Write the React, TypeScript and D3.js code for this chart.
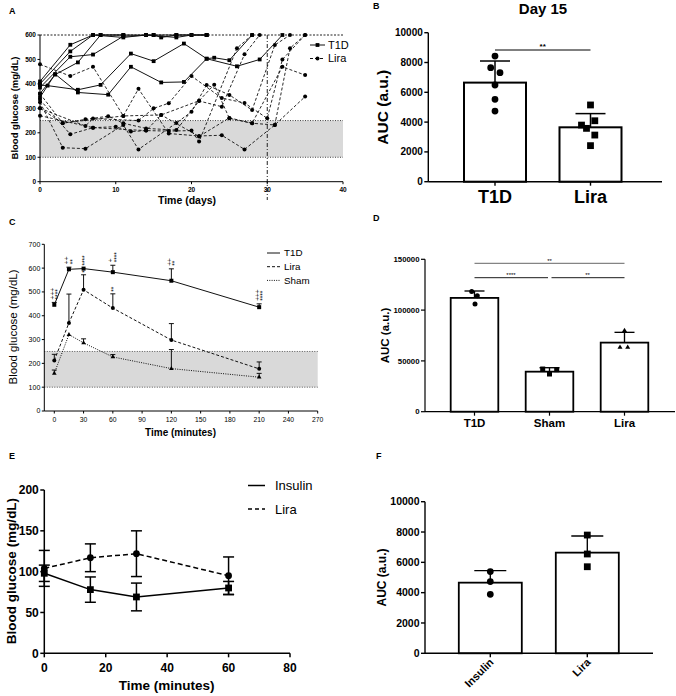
import React from "react";
import * as d3 from "d3";

const FONT = "'Liberation Sans', Arial, Helvetica, sans-serif";

// ---------------- DATA ----------------
// Panel A: individual mice, [day, glucose]
const aT1DMice: [number, number][][] = [
  [[0, 410], [4, 560], [7, 600], [8, 600], [11, 600], [14, 600], [15, 600], [16, 590], [18, 600], [20, 600], [22, 600]],
  [[0, 400], [4, 533], [7, 600], [11, 590], [14, 600], [18, 590], [20, 600], [22, 600]],
  [[0, 385], [4, 511], [7, 520], [11, 595], [15, 600], [18, 600], [22, 600]],
  [[0, 360], [2, 438], [5, 488], [8, 600], [11, 600]],
  [[0, 395], [1, 393], [5, 376], [8, 396], [12, 524], [15, 493], [19, 565], [22, 503], [23, 507], [25, 497], [28, 600]],
  [[0, 345], [2, 440], [5, 365], [9, 356], [12, 470], [16, 406], [19, 408], [22, 503], [26, 472], [29, 500], [32, 600]],
];
const aLiraMice: [number, number][][] = [
  [[0, 480], [4, 432], [7, 470], [11, 269], [13, 380], [17, 197], [21, 187], [24, 190], [27, 132], [31, 232], [35, 348]],
  [[0, 360], [3, 239], [6, 255], [9, 268], [11, 239], [14, 218], [18, 211], [21, 330], [24, 307], [27, 521], [29, 600]],
  [[0, 335], [4, 194], [7, 221], [10, 225], [12, 205], [14, 209], [17, 207], [20, 209], [21, 164], [26, 546], [28, 600]],
  [[0, 325], [3, 139], [6, 135], [11, 232], [13, 132], [18, 240], [20, 286], [22, 396], [25, 355], [28, 293], [31, 559], [33, 600]],
  [[0, 300], [6, 228], [7, 258], [13, 250], [15, 300], [17, 321], [20, 432], [24, 342], [27, 322], [30, 259], [32, 500], [35, 600]],
  [[0, 300], [3, 240], [11, 269], [16, 273], [21, 185], [25, 261], [28, 239], [32, 470], [35, 436]],
  [[0, 270], [7, 221], [14, 209], [16, 273], [21, 331], [23, 397], [25, 259], [28, 239], [31, 232], [33, 546], [35, 600]],
];
const aYTicks = [0, 100, 200, 300, 400, 500, 600];
const aXTicks = [0, 10, 20, 30, 40];

// Panel B
const bCats = ["T1D", "Lira"];
const bMeans = [6650, 3650];
const bErr = [1450, 920];
const bPoints = [
  [8430, 7650, 7320, 6490, 5530, 4740],
  [5150, 3800, 4090, 3580, 3130, 2420],
];
const bYTicks = [0, 2000, 4000, 6000, 8000, 10000];

// Panel C
const cTimes = [0, 15, 30, 60, 120, 210];
const cT1D = [446, 595, 598, 583, 547, 436];
const cT1DErr = [10, 9, 0, 29, 50, 14];
const cLira = [212, 370, 509, 432, 298, 177];
const cLiraErr = [26, 121, 63, 60, 69, 29];
const cSham = [158, 321, 286, 227, 178, 142];
const cShamErr = [14, 0, 17, 10, 80, 16];
const cPlus = ["+++", "++", "", "+", "++", "+++"];
const cStar = ["****", "**", "****", "****", "**", "****"];
const cLiraStar = ["", "", "*", "**", "", ""];
const cYTicks = [0, 100, 200, 300, 400, 500, 600, 700];
const cXTicks = [0, 30, 60, 90, 120, 150, 180, 210, 240, 270];

// Panel D
const dCats = ["T1D", "Sham", "Lira"];
const dMeans = [112000, 39400, 68000];
const dErr = [6800, 3900, 10100];
const dPoints = [
  [118200, 114200, 106000],
  [42000, 37100, 41400],
  [79800, 63300, 63300],
];
const dYTicks = [0, 50000, 100000, 150000];

// Panel E
const eTimes = [0, 15, 30, 60];
const eInsulin = [98, 78, 69, 80];
const eInsulinErr = [10, 15.5, 17, 8];
const eLira = [104, 117, 122, 95];
const eLiraErr = [22, 17, 28, 23];
const eYTicks = [0, 50, 100, 150, 200];
const eXTicks = [0, 20, 40, 60, 80];

// Panel F
const fCats = ["Insulin", "Lira"];
const fMeans = [4660, 6640];
const fErr = [790, 1100];
const fPoints = [
  [5390, 4730, 3890],
  [7800, 6550, 5710],
];
const fYTicks = [0, 2000, 4000, 6000, 8000, 10000];

// ---------------- HELPERS ----------------
type Shape = "square" | "circle" | "triangle";
function symPath(shape: Shape, s: number) {
  const t = shape === "square" ? d3.symbolSquare : shape === "circle" ? d3.symbolCircle : d3.symbolTriangle;
  const area = shape === "square" ? s * s : shape === "circle" ? (Math.PI * s * s) / 4 : 0.433 * s * s;
  return d3.symbol().type(t).size(area)() as string;
}
function Marker({ shape, x, y, s }: { shape: Shape; x: number; y: number; s: number }) {
  return <path d={symPath(shape, s)} transform={`translate(${x},${y})`} fill="#000" />;
}

function YAxis({ scale, x, ticks, fs, bold, tl, sw, fmt, gap }: any) {
  const [r0, r1] = scale.range();
  return (
    <g>
      <line x1={x} x2={x} y1={r0} y2={r1} stroke="#000" strokeWidth={sw} />
      {ticks.map((t: number) => (
        <g key={t}>
          <line x1={x - tl} x2={x} y1={scale(t)} y2={scale(t)} stroke="#000" strokeWidth={sw} />
          <text x={x - tl - gap} y={scale(t)} dy="0.35em" textAnchor="end" fontSize={fs} fontWeight={bold ? "bold" : "normal"} fontFamily={FONT}>
            {fmt ? fmt(t) : t}
          </text>
        </g>
      ))}
    </g>
  );
}

function RotTitle({ cx, cy, text, fs, bold }: any) {
  return (
    <text transform={`translate(${cx},${cy}) rotate(-90)`} dy="0.35em" textAnchor="middle" fontSize={fs} fontWeight={bold ? "bold" : "normal"} fontFamily={FONT}>
      {text}
    </text>
  );
}

function PanelLabel({ x, y, t }: any) {
  return (
    <text x={x} y={y} fontSize={9} fontWeight="bold" fontFamily={FONT}>
      {t}
    </text>
  );
}

// ---------------- PANELS ----------------
function PanelA() {
  const x = d3.scaleLinear().domain([0, 40]).range([40, 343]);
  const y = d3.scaleLinear().domain([0, 600]).range([181.7, 35]);
  const line = d3.line<[number, number]>().x((d) => x(d[0])).y((d) => y(d[1]));
  return (
    <g>
      <PanelLabel x={9} y={13.5} t="A" />
      <rect x={x(0)} y={y(250)} width={x(40) - x(0)} height={y(100) - y(250)} fill="#d9d9d9" />
      <line x1={x(0)} x2={x(40)} y1={y(250)} y2={y(250)} stroke="#444" strokeDasharray="1,1.5" />
      <line x1={x(0)} x2={x(40)} y1={y(100)} y2={y(100)} stroke="#444" strokeDasharray="1,1.5" />
      <line x1={x(0)} x2={x(40)} y1={y(600)} y2={y(600)} stroke="#222" strokeDasharray="2,1.5" />
      <line x1={x(30)} x2={x(30)} y1={y(600)} y2={200} stroke="#222" strokeDasharray="4,2,1,2" />
      {aLiraMice.map((m, i) => (
        <g key={"l" + i}>
          <path d={line(m) as string} fill="none" stroke="#111" strokeWidth={0.9} strokeDasharray="3,2" />
          {m.map((p, j) => (
            <Marker key={j} shape="circle" x={x(p[0])} y={y(p[1])} s={4} />
          ))}
        </g>
      ))}
      {aT1DMice.map((m, i) => (
        <g key={"t" + i}>
          <path d={line(m) as string} fill="none" stroke="#111" strokeWidth={1} />
          {m.map((p, j) => (
            <Marker key={j} shape="square" x={x(p[0])} y={y(p[1])} s={3.8} />
          ))}
        </g>
      ))}
      <YAxis scale={y} x={x(0)} ticks={aYTicks} fs={6.5} bold tl={2.5} sw={1} gap={1.5} />
      <line x1={x(0)} x2={x(40)} y1={y(0)} y2={y(0)} stroke="#000" strokeWidth={1} />
      {aXTicks.map((t) => (
        <g key={t}>
          <line x1={x(t)} x2={x(t)} y1={y(0)} y2={y(0) + 2.5} stroke="#000" />
          <text x={x(t)} y={192} textAnchor="middle" fontSize={6.5} fontWeight="bold" fontFamily={FONT}>
            {t}
          </text>
        </g>
      ))}
      <text x={187} y={204} textAnchor="middle" fontSize={10.5} fontWeight="bold" fontFamily={FONT}>
        Time (days)
      </text>
      <RotTitle cx={15} cy={108} text="Blood glucose (mg/dL)" fs={9.5} bold />
      {/* legend */}
      <line x1={310} x2={325} y1={45} y2={45} stroke="#111" />
      <Marker shape="square" x={317.5} y={45} s={3.8} />
      <text x={328} y={48.8} fontSize={11} fontFamily={FONT}>T1D</text>
      <line x1={310} x2={325} y1={58.5} y2={58.5} stroke="#111" strokeDasharray="3,2" />
      <Marker shape="circle" x={317.5} y={58.5} s={4} />
      <text x={328} y={62.3} fontSize={11} fontFamily={FONT}>Lira</text>
    </g>
  );
}

function BarPanel({ cats, means, errs, points, shapes, yDomain, yTicks, yRange, xAxis, centers, barW, capW, msize, jitter, tickFs, titleFs, titleCx, catFs, catY, rotateCats, barSW, axSW }: any) {
  const y = d3.scaleLinear().domain(yDomain).range(yRange);
  const xp = d3.scalePoint().domain(cats).range([centers[0], centers[centers.length - 1]]);
  return (
    <g>
      {cats.map((c: string, i: number) => {
        const cx = xp(c) as number;
        return (
          <g key={c}>
            <line x1={cx} x2={cx} y1={y(means[i])} y2={y(means[i] + errs[i])} stroke="#000" strokeWidth={barSW * 0.75} />
            <line x1={cx - capW / 2} x2={cx + capW / 2} y1={y(means[i] + errs[i])} y2={y(means[i] + errs[i])} stroke="#000" strokeWidth={barSW * 0.75} />
            <rect x={cx - barW / 2} y={y(means[i])} width={barW} height={y(0) - y(means[i])} fill="#fff" stroke="#000" strokeWidth={barSW} />
            {points[i].map((v: number, j: number) => (
              <Marker key={j} shape={shapes[i]} x={cx + (jitter ? jitter[i][j] : 0)} y={y(v)} s={msize} />
            ))}
            <line x1={cx} x2={cx} y1={y(0)} y2={y(0) + 4} stroke="#000" strokeWidth={axSW} />
            {rotateCats ? (
              <text transform={`translate(${cx + 4},${catY}) rotate(-45)`} textAnchor="end" fontSize={catFs} fontWeight="bold" fontFamily={FONT}>
                {c}
              </text>
            ) : (
              <text x={cx} y={catY} textAnchor="middle" fontSize={catFs} fontWeight="bold" fontFamily={FONT}>
                {c}
              </text>
            )}
          </g>
        );
      })}
      <YAxis scale={y} x={xAxis[0]} ticks={yTicks} fs={tickFs} bold tl={4} sw={axSW} gap={1.5} />
      <line x1={xAxis[0]} x2={xAxis[1]} y1={y(0)} y2={y(0)} stroke="#000" strokeWidth={axSW} />
      <RotTitle cx={titleCx} cy={(yRange[0] + yRange[1]) / 2} text="AUC (a.u.)" fs={titleFs} bold />
    </g>
  );
}

function PanelB() {
  const xp = d3.scalePoint().domain(bCats).range([495, 590.5]);
  return (
    <g>
      <PanelLabel x={373} y={9} t="B" />
      <text x={543} y={14} textAnchor="middle" fontSize={15} fontWeight="bold" fontFamily={FONT}>
        Day 15
      </text>
      <BarPanel
        cats={bCats} means={bMeans} errs={bErr} points={bPoints} shapes={["circle", "square"]}
        yDomain={[0, 10000]} yTicks={bYTicks} yRange={[181.7, 32.7]} xAxis={[428.3, 662]} centers={[495, 590.5]}
        barW={62} capW={30} msize={6.8} jitter={[[0, -4.3, 5, 0, 0, 0], [0, -9, 4.3, -4, 4.3, 0]]}
        tickFs={10} titleFs={15.5} titleCx={383} catFs={18} catY={203} barSW={2} axSW={1.4}
      />
      <line x1={xp("T1D")} x2={xp("Lira")} y1={50} y2={50} stroke="#000" strokeWidth={1} />
      <text x={542.7} y={49} textAnchor="middle" fontSize={8} fontWeight="bold" fontFamily={FONT}>
        **
      </text>
    </g>
  );
}

function PanelC() {
  const x = d3.scaleLinear().domain([0, 270]).range([54.3, 317.7]);
  const y = d3.scaleLinear().domain([0, 700]).range([411, 244.3]);
  const mk = (vals: number[]) => d3.line<number>().x((_, i) => x(cTimes[i])).y((d) => y(d))(vals) as string;
  const series = [
    { name: "T1D", vals: cT1D, err: cT1DErr, shape: "square" as Shape, dash: "none", sw: 1 },
    { name: "Lira", vals: cLira, err: cLiraErr, shape: "circle" as Shape, dash: "3,2", sw: 1 },
    { name: "Sham", vals: cSham, err: cShamErr, shape: "triangle" as Shape, dash: "1,1.3", sw: 1 },
  ];
  return (
    <g>
      <PanelLabel x={9} y={225} t="C" />
      <rect x={44.3} y={y(250)} width={x(270) - 44.3} height={y(100) - y(250)} fill="#d9d9d9" />
      <line x1={44.3} x2={x(270)} y1={y(250)} y2={y(250)} stroke="#555" strokeDasharray="1,1.5" />
      <line x1={44.3} x2={x(270)} y1={y(100)} y2={y(100)} stroke="#555" strokeDasharray="1,1.5" />
      {series.map((s) => (
        <g key={s.name}>
          <path d={mk(s.vals)} fill="none" stroke="#111" strokeWidth={s.sw} strokeDasharray={s.dash} />
          {s.vals.map((v, i) =>
            s.err[i] > 0 ? (
              <g key={"e" + i}>
                <line x1={x(cTimes[i])} x2={x(cTimes[i])} y1={y(v)} y2={y(v + s.err[i])} stroke="#111" />
                <line x1={x(cTimes[i]) - 2.5} x2={x(cTimes[i]) + 2.5} y1={y(v + s.err[i])} y2={y(v + s.err[i])} stroke="#111" />
              </g>
            ) : null
          )}
          {s.vals.map((v, i) => (
            <Marker key={i} shape={s.shape} x={x(cTimes[i])} y={y(v)} s={s.shape === "triangle" ? 4.6 : 4} />
          ))}
        </g>
      ))}
      {cTimes.map((t, i) => {
        const top = y(cT1D[i] + cT1DErr[i]) - 3;
        return (
          <g key={"an" + i}>
            {cPlus[i] && (
              <text transform={`translate(${x(t) - 1.8},${top}) rotate(-90)`} fontSize={6.5} fontFamily={FONT} dy="0.35em">
                {cPlus[i]}
              </text>
            )}
            <text transform={`translate(${x(t) + (cPlus[i] ? 2.2 : 0)},${top}) rotate(-90)`} fontSize={6.5} fontFamily={FONT} dy="0.55em">
              {cStar[i]}
            </text>
            {cLiraStar[i] && (
              <text transform={`translate(${x(t)},${y(cLira[i] + cLiraErr[i]) - 2}) rotate(-90)`} fontSize={6.5} fontFamily={FONT} dy="0.55em">
                {cLiraStar[i]}
              </text>
            )}
          </g>
        );
      })}
      <YAxis scale={y} x={44.3} ticks={cYTicks} fs={7} tl={2.5} sw={1} gap={1.5} />
      <line x1={44.3} x2={x(270)} y1={y(0)} y2={y(0)} stroke="#000" />
      {cXTicks.map((t) => (
        <g key={t}>
          <line x1={x(t)} x2={x(t)} y1={y(0)} y2={y(0) + 2.5} stroke="#000" />
          <text x={x(t)} y={421.5} textAnchor="middle" fontSize={6.8} fontFamily={FONT}>
            {t}
          </text>
        </g>
      ))}
      <text x={180.5} y={436} textAnchor="middle" fontSize={10} fontWeight="bold" fontFamily={FONT}>
        Time (minutes)
      </text>
      <RotTitle cx={13.3} cy={327} text="Blood glucose (mg/dL)" fs={11.5} />
      {series.map((s, i) => (
        <g key={"lg" + i}>
          <line x1={267} x2={280} y1={253 + i * 13.7} y2={253 + i * 13.7} stroke="#111" strokeDasharray={s.dash} />
          <text x={284} y={253 + i * 13.7} dy="0.35em" fontSize={9.8} fontFamily={FONT}>
            {s.name}
          </text>
        </g>
      ))}
    </g>
  );
}

function PanelD() {
  const xp = d3.scalePoint().domain(dCats).range([474.5, 624.5]);
  return (
    <g>
      <PanelLabel x={373} y={221} t="D" />
      <BarPanel
        cats={dCats} means={dMeans} errs={dErr} points={dPoints} shapes={["circle", "square", "triangle"]}
        yDomain={[0, 150000]} yTicks={dYTicks} yRange={[411.7, 259.3]} xAxis={[425, 675]} centers={[474.5, 549.5, 624.5]}
        barW={47.6} capW={20} msize={5} jitter={[[-2.8, 2.8, 0.5], [-6.8, 0, 7.2], [0, -4.5, 3.2]]}
        tickFs={7.8} titleFs={11.5} titleCx={385} catFs={11.5} catY={426.5} barSW={1.8} axSW={1.2}
      />
      <line x1={xp("T1D")} x2={xp("Lira")} y1={263.3} y2={263.3} stroke="#666" strokeWidth={1} />
      <text x={549.5} y={263} textAnchor="middle" fontSize={6} fontFamily={FONT}>**</text>
      <line x1={xp("T1D")} x2={548} y1={277.7} y2={277.7} stroke="#000" strokeWidth={0.9} />
      <text x={511} y={277.4} textAnchor="middle" fontSize={6} fontFamily={FONT}>****</text>
      <line x1={551.5} x2={xp("Lira")} y1={277.7} y2={277.7} stroke="#000" strokeWidth={0.9} />
      <text x={587.5} y={277.4} textAnchor="middle" fontSize={6} fontFamily={FONT}>**</text>
    </g>
  );
}

function PanelE() {
  const x = d3.scaleLinear().domain([0, 80]).range([44.3, 290]);
  const y = d3.scaleLinear().domain([0, 200]).range([653.3, 490]);
  const mk = (vals: number[]) => d3.line<number>().x((_, i) => x(eTimes[i])).y((d) => y(d))(vals) as string;
  const series = [
    { name: "Insulin", vals: eInsulin, err: eInsulinErr, shape: "square" as Shape, dash: "none" },
    { name: "Lira", vals: eLira, err: eLiraErr, shape: "circle" as Shape, dash: "5,3" },
  ];
  return (
    <g>
      <PanelLabel x={9} y={458.5} t="E" />
      {series.map((s) => (
        <g key={s.name}>
          <path d={mk(s.vals)} fill="none" stroke="#000" strokeWidth={1.5} strokeDasharray={s.dash} />
          {s.vals.map((v, i) => (
            <g key={"e" + i}>
              <line x1={x(eTimes[i])} x2={x(eTimes[i])} y1={y(v - s.err[i])} y2={y(v + s.err[i])} stroke="#000" strokeWidth={1.5} />
              <line x1={x(eTimes[i]) - 5.5} x2={x(eTimes[i]) + 5.5} y1={y(v + s.err[i])} y2={y(v + s.err[i])} stroke="#000" strokeWidth={1.5} />
              <line x1={x(eTimes[i]) - 5.5} x2={x(eTimes[i]) + 5.5} y1={y(v - s.err[i])} y2={y(v - s.err[i])} stroke="#000" strokeWidth={1.5} />
            </g>
          ))}
          {s.vals.map((v, i) => (
            <Marker key={i} shape={s.shape} x={x(eTimes[i])} y={y(v)} s={6.8} />
          ))}
        </g>
      ))}
      <YAxis scale={y} x={x(0)} ticks={eYTicks} fs={12} bold tl={4} sw={1.5} gap={1.5} />
      <line x1={x(0)} x2={x(80)} y1={y(0)} y2={y(0)} stroke="#000" strokeWidth={1.5} />
      {eXTicks.map((t) => (
        <g key={t}>
          <line x1={x(t)} x2={x(t)} y1={y(0)} y2={y(0) + 4} stroke="#000" strokeWidth={1.5} />
          <text x={x(t)} y={671.5} textAnchor="middle" fontSize={12} fontWeight="bold" fontFamily={FONT}>
            {t}
          </text>
        </g>
      ))}
      <text x={166.7} y={690} textAnchor="middle" fontSize={13.5} fontWeight="bold" fontFamily={FONT}>
        Time (minutes)
      </text>
      <RotTitle cx={11} cy={571} text="Blood glucose (mg/dL)" fs={13.5} bold />
      {series.map((s, i) => (
        <g key={"lg" + i}>
          <line x1={248} x2={265} y1={485.5 + i * 23.5} y2={485.5 + i * 23.5} stroke="#000" strokeWidth={1.5} strokeDasharray={s.dash === "none" ? "none" : "4,3"} />
          <text x={275} y={485.5 + i * 23.5} dy="0.36em" fontSize={13} fontFamily={FONT}>
            {s.name}
          </text>
        </g>
      ))}
    </g>
  );
}

function PanelF() {
  return (
    <g>
      <PanelLabel x={376} y={459.3} t="F" />
      <BarPanel
        cats={fCats} means={fMeans} errs={fErr} points={fPoints} shapes={["circle", "square"]}
        yDomain={[0, 10000]} yTicks={fYTicks} yRange={[653.3, 501.7]} xAxis={[425, 653]} centers={[490.3, 587.3]}
        barW={63} capW={32} msize={6.8} jitter={null}
        tickFs={10.5} titleFs={12} titleCx={381.7} catFs={11} catY={663} rotateCats barSW={1.8} axSW={1.4}
      />
    </g>
  );
}

export default function App() {
  return (
    <svg width={676} height={696} viewBox="0 0 676 696" style={{ position: "absolute", left: 0, top: 0, background: "#fff" }}>
      <rect width={676} height={696} fill="#fff" />
      <PanelA />
      <PanelB />
      <PanelC />
      <PanelD />
      <PanelE />
      <PanelF />
    </svg>
  );
}
